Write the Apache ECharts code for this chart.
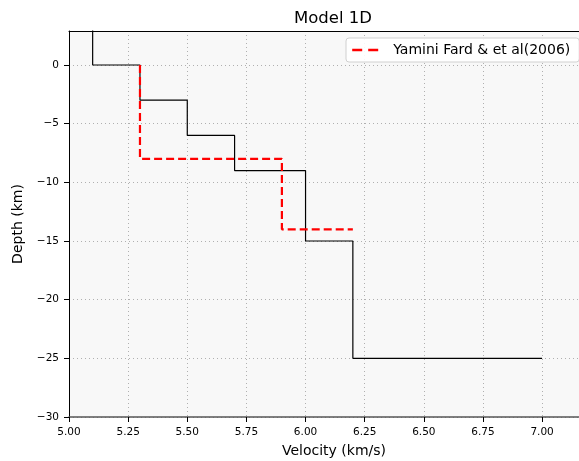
<!DOCTYPE html>
<html>
<head>
<meta charset="utf-8">
<script src="https://cdn.jsdelivr.net/npm/echarts@6/dist/echarts.min.js"></script>
<style>
  html, body { margin: 0; padding: 0; background: #fff; }
  #chart { width: 579px; height: 461px; }
</style>
</head>
<body>
<div id="chart"></div>
<script>
// model layers: velocity (km/s) vs depth (km), drawn as steps
const modelVel = [5.1, 5.1, 5.3, 5.3, 5.5, 5.5, 5.7, 5.7, 6.0, 6.0, 6.2, 6.2, 7.0];
const modelDepth = [3, 0, 0, -3, -3, -6, -6, -9, -9, -15, -15, -25, -25];

const yaminiVel = [5.3, 5.3, 5.9, 5.9, 6.2];
const yaminiDepth = [0, -8, -8, -14, -14];

const xTicks = [5.0, 5.25, 5.5, 5.75, 6.0, 6.25, 6.5, 6.75, 7.0];
const yTicks = [-30, -25, -20, -15, -10, -5, 0];

const minus = (s) => String(s).replace('-', '\u2212');

const myChart = echarts.init(document.getElementById('chart'));

const gridDots = { show: true, lineStyle: { color: '#b0b0b0', type: [1, 3], width: 1 } };

var option = {
  animation: false,
  textStyle: { fontFamily: 'DejaVu Sans' },
  title: {
    text: 'Model 1D',
    left: 328,
    textAlign: 'center',
    top: 5,
    textStyle: { fontSize: 16.5, fontWeight: 'normal', color: '#000', fontFamily: 'DejaVu Sans' }
  },
  legend: {
    data: ['Yamini Fard & et al(2006)'],
    left: 346,
    top: 38,
    itemWidth: 27,
    itemHeight: 10,
    padding: [5, 9, 5, 5],
    backgroundColor: 'rgba(255,255,255,0.9)',
    borderColor: '#d0d0d0',
    borderWidth: 1,
    borderRadius: 3,
    itemStyle: { opacity: 0 },
    lineStyle: { width: 2.4, type: [10, 6] },
    textStyle: { fontSize: 14, color: '#000', fontFamily: 'DejaVu Sans', padding: [0, 0, 0, 9] }
  },
  grid: {
    left: 69, top: 31, right: 0, bottom: 44,
    outerBoundsMode: 'none',
    containLabel: false,
    show: true,
    backgroundColor: '#f8f8f8',
    borderWidth: 0
  },
  xAxis: [{
    type: 'value',
    min: 5.0,
    max: 7.156,
    interval: 0.25,
    name: 'Velocity (km/s)',
    nameLocation: 'middle',
    nameGap: 27,
    nameTextStyle: { fontSize: 14, color: '#000', padding: [0, 0, 0, 20] },
    axisLine: { show: true, onZero: false, lineStyle: { color: '#555', width: 1.5 } },
    axisTick: { show: true, length: 5, lineStyle: { color: '#000' }, customValues: xTicks },
    axisLabel: {
      fontSize: 10.5, color: '#000', margin: 10,
      customValues: xTicks,
      formatter: (v) => v.toFixed(2)
    },
    splitLine: gridDots
  }, {
    type: 'value',
    position: 'top',
    min: 5.0,
    max: 7.156,
    axisLine: { show: true, onZero: false, lineStyle: { color: '#000', width: 1 } },
    axisTick: { show: false },
    axisLabel: { show: false },
    splitLine: { show: false }
  }],
  yAxis: {
    type: 'value',
    min: -30,
    max: 2.9,
    interval: 5,
    name: 'Depth (km)',
    nameLocation: 'middle',
    nameGap: 44,
    nameRotate: 90,
    nameTextStyle: { fontSize: 14, color: '#000' },
    axisLine: { show: true, onZero: false, lineStyle: { color: '#000', width: 1 } },
    axisTick: { show: true, length: 5, lineStyle: { color: '#000' }, customValues: yTicks },
    axisLabel: {
      fontSize: 10.5, color: '#000', margin: 10,
      customValues: yTicks,
      formatter: (v) => minus(v)
    },
    splitLine: gridDots
  },
  series: [
    {
      name: 'Model',
      type: 'line',
      data: modelVel.map((v, i) => [v, modelDepth[i]]),
      showSymbol: false,
      symbol: 'none',
      clip: true,
      lineStyle: { color: '#000', width: 1.2 },
      itemStyle: { color: '#000' },
      z: 2
    },
    {
      name: 'Yamini Fard & et al(2006)',
      type: 'line',
      data: yaminiVel.map((v, i) => [v, yaminiDepth[i]]),
      showSymbol: false,
      symbol: 'none',
      lineStyle: { color: '#ff0000', width: 2.2, type: [8, 4] },
      itemStyle: { color: '#ff0000' },
      z: 3
    }
  ]
};
myChart.setOption(option);
</script>
</body>
</html>
